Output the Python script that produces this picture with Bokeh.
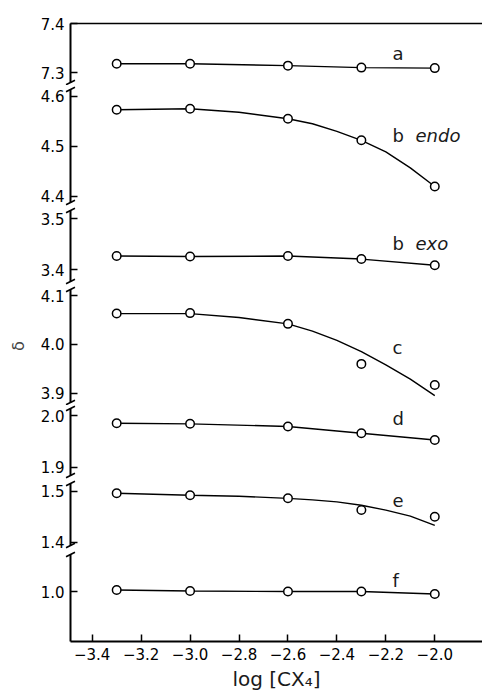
from bokeh.plotting import figure
from bokeh.layouts import column
from bokeh.models import Range1d, FixedTicker, Label, LinearAxis, CustomJSTickFormatter, PrintfTickFormatter
from bokeh.embed import file_html
from bokeh.resources import INLINE

# ---------------- data ----------------
x_vals = [-3.3, -3.0, -2.6, -2.3, -2.0]
x_ticks = [-3.4, -3.2, -3.0, -2.8, -2.6, -2.4, -2.2, -2.0]

a_vals = [7.318, 7.318, 7.314, 7.310, 7.309]
b_endo_vals = [4.573, 4.575, 4.555, 4.512, 4.420]
b_exo_vals = [3.427, 3.426, 3.427, 3.421, 3.409]
c_vals = [4.063, 4.064, 4.042, 3.960, 3.917]
d_vals = [1.985, 1.984, 1.979, 1.966, 1.953]
e_vals = [1.496, 1.492, 1.486, 1.463, 1.450]
f_vals = [1.003, 1.001, 1.000, 1.000, 0.995]

# fitted curves drawn in the original
curve_x = [-3.3, -3.0, -2.8, -2.6, -2.5, -2.4, -2.3, -2.2, -2.1, -2.0]
b_endo_curve = [4.573, 4.575, 4.568, 4.555, 4.545, 4.530, 4.512, 4.489, 4.457, 4.420]
c_curve = [4.063, 4.063, 4.055, 4.042, 4.027, 4.008, 3.985, 3.958, 3.929, 3.895]
e_curve = [1.496, 1.492, 1.490, 1.486, 1.483, 1.479, 1.4725, 1.463, 1.451, 1.433]

a_ticks = [7.3, 7.4]
b_endo_ticks = [4.4, 4.5, 4.6]
b_exo_ticks = [3.4, 3.5]
c_ticks = [3.9, 4.0, 4.1]
d_ticks = [1.9, 2.0]
e_ticks = [1.4, 1.5]
f_ticks = [1.0]

x_title = "log [CX₄]"
y_title = "δ"

# ---------------- layout ----------------
FONT = "DejaVu Sans"
X_START, X_END = -3.4887, -1.805
LBL_X, LBL_X2 = -2.1728, -2.0788
xr = Range1d(X_START, X_END)

segments = [
    dict(vals=a_vals, curve=None, ticks=a_ticks, yr=(7.2796, 7.4), h=59, top=23, bottom=3,
         labels=[("a", "normal", LBL_X, 7.3388)]),
    dict(vals=b_endo_vals, curve=b_endo_curve, ticks=b_endo_ticks, yr=(4.388, 4.6134), h=113, top=4, bottom=4,
         labels=[("b", "normal", LBL_X, 4.5216), ("endo", "italic", LBL_X2, 4.5216)]),
    dict(vals=b_exo_vals, curve=None, ticks=b_exo_ticks, yr=(3.377, 3.5163), h=71, top=4, bottom=4,
         labels=[("b", "normal", LBL_X, 3.451), ("exo", "italic", LBL_X2, 3.451)]),
    dict(vals=c_vals, curve=c_curve, ticks=c_ticks, yr=(3.881, 4.1123), h=113, top=4, bottom=3,
         labels=[("c", "normal", LBL_X, 3.9936)]),
    dict(vals=d_vals, curve=None, ticks=d_ticks, yr=(1.8846, 2.0135), h=67, top=3, bottom=4,
         labels=[("d", "normal", LBL_X, 1.9942)]),
    dict(vals=e_vals, curve=e_curve, ticks=e_ticks, yr=(1.3935, 1.5151), h=62, top=4, bottom=6,
         labels=[("e", "normal", LBL_X, 1.4818)]),
    dict(vals=f_vals, curve=None, ticks=f_ticks, yr=(0.9, 1.074), h=87, top=3, bottom=52,
         labels=[("f", "normal", LBL_X, 1.022)]),
]

figs = []
n = len(segments)
for i, s in enumerate(segments):
    first, last = i == 0, i == n - 1
    y0, y1 = s["yr"]
    p = figure(x_range=xr, y_range=Range1d(y0, y1), frame_width=412, frame_height=s["h"],
               min_border_left=70, min_border_right=0, min_border_top=s["top"],
               min_border_bottom=s["bottom"], output_backend="svg", toolbar_location=None,
               x_axis_location="below" if last else None, outline_line_color=None,
               background_fill_color="white", border_fill_color="white")
    p.xgrid.visible = False
    p.ygrid.visible = False

    ya = p.yaxis[0]
    ya.ticker = FixedTicker(ticks=s["ticks"])
    ya.formatter = PrintfTickFormatter(format="%.1f")
    ya.axis_line_width = 2
    ya.major_tick_in = 7
    ya.major_tick_out = 0
    ya.major_tick_line_width = 1.5
    ya.minor_tick_line_color = None
    ya.major_label_text_font = FONT
    ya.major_label_text_font_size = "15px"
    ya.major_label_text_color = "black"
    ya.major_label_standoff = 6
    if i == 3:
        ya.axis_label = y_title
        ya.axis_label_text_font = FONT
        ya.axis_label_text_font_size = "16px"
        ya.axis_label_text_font_style = "normal"
        ya.axis_label_standoff = 10

    if first:
        top_ax = LinearAxis(ticker=FixedTicker(ticks=[]), axis_line_width=1.5,
                            major_tick_line_color=None, minor_tick_line_color=None,
                            major_label_text_font_size="0px")
        p.add_layout(top_ax, "above")

    if last:
        xa = p.xaxis[0]
        xa.ticker = FixedTicker(ticks=x_ticks)
        xa.formatter = CustomJSTickFormatter(
            code="return (tick < 0 ? '\u2212' : '') + Math.abs(tick).toFixed(1);")
        xa.axis_line_width = 2
        xa.major_tick_in = 7
        xa.major_tick_out = 0
        xa.major_tick_line_width = 1.5
        xa.minor_tick_line_color = None
        xa.major_label_text_font = FONT
        xa.major_label_text_font_size = "15px"
        xa.major_label_text_color = "black"
        xa.major_label_standoff = 6
        xa.axis_label = x_title
        xa.axis_label_text_font = FONT
        xa.axis_label_text_font_size = "20px"
        xa.axis_label_text_font_style = "normal"
        xa.axis_label_text_color = "#1a1a1a"
        xa.axis_label_standoff = 4

    # axis break marks at the ends of the segment
    brk_y = []
    if not first:
        brk_y.append(y1)
    if not last:
        brk_y.append(y0)
    if brk_y:
        p.scatter(x=[X_START] * len(brk_y), y=brk_y, marker="dash", size=10, angle=0.46,
                  line_color="black", line_width=1.6, level="overlay")

    if s["curve"] is not None:
        p.line(curve_x, s["curve"], line_color="black", line_width=1.4)
    else:
        p.line(x_vals, s["vals"], line_color="black", line_width=1.4)
    p.scatter(x_vals, s["vals"], marker="circle", size=8.5, fill_color="white",
              line_color="black", line_width=1.5)

    for text, style, lx, ly in s["labels"]:
        p.add_layout(Label(x=lx, y=ly, text=text, text_font=FONT, text_font_size="18px",
                           text_font_style=style, text_color="#1a1a1a",
                           text_align="left", text_baseline="alphabetic"))
    figs.append(p)

layout = column(*figs, spacing=0)
open("out.html", "w").write(file_html(layout, INLINE))
